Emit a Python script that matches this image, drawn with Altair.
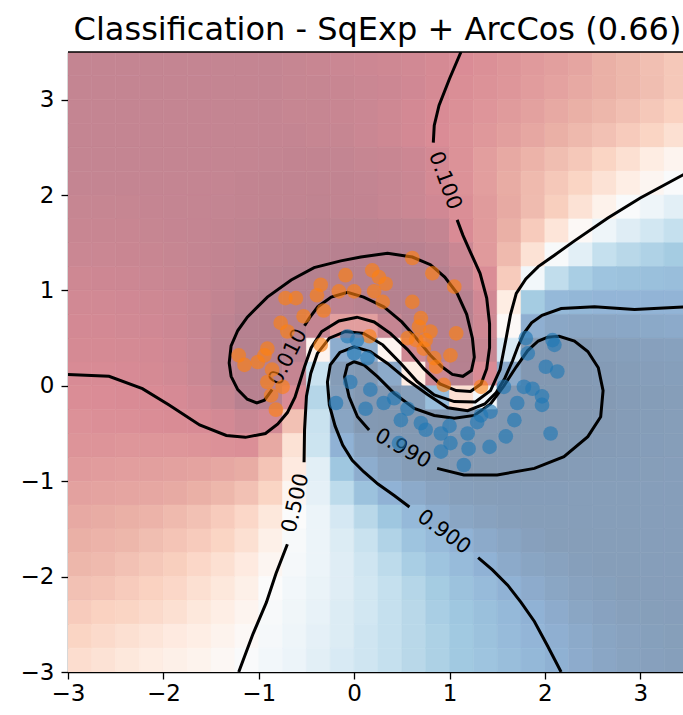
import altair as alt
import pandas as pd

TITLE = "Classification - SqExp + ArcCos (0.66)"

# ---- background field: estimated probability of the blue class on a 0.25 grid ----
GRID_X = [-2.875, -2.625, -2.375, -2.125, -1.875, -1.625, -1.375, -1.125, -0.875, -0.625,
          -0.375, -0.125, 0.125, 0.375, 0.625, 0.875, 1.125, 1.375, 1.625, 1.875,
          2.125, 2.375, 2.625, 2.875, 3.125, 3.375]
GRID_Y = [3.375, 3.125, 2.875, 2.625, 2.375, 2.125, 1.875, 1.625, 1.375, 1.125,
          0.875, 0.625, 0.375, 0.125, -0.125, -0.375, -0.625, -0.875, -1.125, -1.375,
          -1.625, -1.875, -2.125, -2.375, -2.625, -2.875]
P_GRID = [
    [0.045]*9 + [0.05, 0.055, 0.06, 0.065, 0.07, 0.08, 0.09, 0.103, 0.113, 0.126, 0.14, 0.154, 0.17, 0.2, 0.22, 0.245, 0.27],
    [0.045]*9 + [0.05, 0.05, 0.055, 0.06, 0.065, 0.075, 0.09, 0.107, 0.12, 0.131, 0.147, 0.163, 0.18, 0.2, 0.22, 0.24, 0.27],
    [0.045]*9 + [0.05, 0.05, 0.055, 0.06, 0.07, 0.085, 0.1, 0.113, 0.127, 0.143, 0.16, 0.18, 0.2, 0.22, 0.245, 0.27, 0.3],
    [0.045]*10 + [0.05, 0.05, 0.06, 0.07, 0.085, 0.103, 0.118, 0.135, 0.154, 0.175, 0.2, 0.225, 0.25, 0.28, 0.31, 0.35],
    [0.045]*8 + [0.042, 0.04, 0.04, 0.042, 0.05, 0.055, 0.065, 0.085, 0.12, 0.15, 0.18, 0.21, 0.24, 0.27, 0.31, 0.35, 0.4, 0.45],
    [0.045]*7 + [0.04, 0.038, 0.037, 0.037, 0.038, 0.042, 0.05, 0.06, 0.088, 0.12, 0.15, 0.19, 0.23, 0.27, 0.31, 0.36, 0.41, 0.46, 0.51],
    [0.05, 0.05, 0.05, 0.048, 0.045, 0.045, 0.042, 0.04, 0.038, 0.036, 0.035, 0.036, 0.04, 0.05, 0.06, 0.075,
     0.108, 0.142, 0.184, 0.233, 0.29, 0.36, 0.435, 0.51, 0.57, 0.62],
    [0.055, 0.055, 0.055, 0.05, 0.048, 0.045, 0.04, 0.035, 0.03, 0.027, 0.025, 0.024, 0.024, 0.026, 0.032, 0.045,
     0.099, 0.143, 0.2, 0.28, 0.37, 0.48, 0.57, 0.63, 0.67, 0.71],
    [0.06, 0.06, 0.058, 0.055, 0.05, 0.045, 0.04, 0.032, 0.025, 0.02, 0.016, 0.013, 0.011, 0.011, 0.013, 0.025, 0.06,
     0.14, 0.23, 0.36, 0.52, 0.62, 0.71, 0.74, 0.765, 0.79],
    [0.07, 0.068, 0.065, 0.06, 0.055, 0.048, 0.04, 0.03, 0.017, 0.0095, 0.006, 0.005, 0.005, 0.005, 0.006, 0.009,
     0.04, 0.105, 0.28, 0.55, 0.72, 0.78, 0.82, 0.83, 0.84, 0.85],
    [0.08, 0.078, 0.075, 0.07, 0.065, 0.055, 0.04, 0.018, 0.007, 0.004, 0.008, 0.03, 0.015, 0.006, 0.004, 0.005,
     0.01, 0.077, 0.4, 0.79, 0.87, 0.88, 0.885, 0.885, 0.89, 0.89],
    [0.085, 0.083, 0.08, 0.075, 0.068, 0.055, 0.03, 0.009, 0.004, 0.008, 0.045, 0.15, 0.15, 0.047, 0.008, 0.004,
     0.008, 0.07, 0.48, 0.91, 0.94, 0.945, 0.945, 0.94, 0.935, 0.93],
    [0.09, 0.09, 0.088, 0.085, 0.075, 0.06, 0.025, 0.006, 0.004, 0.012, 0.45, 0.92, 0.92, 0.45, 0.07, 0.009,
     0.005, 0.05, 0.65, 0.993, 0.995, 0.99, 0.975, 0.97, 0.965, 0.962],
    [0.098, 0.097, 0.095, 0.09, 0.08, 0.06, 0.025, 0.006, 0.008, 0.047, 0.7, 0.98, 0.993, 0.93, 0.4, 0.06,
     0.009, 0.1, 0.93, 0.995, 0.996, 0.993, 0.985, 0.978, 0.973, 0.97],
    [0.105, 0.103, 0.1, 0.1, 0.092, 0.075, 0.05, 0.012, 0.012, 0.1, 0.75, 0.97, 0.995, 0.993, 0.97, 0.85,
     0.35, 0.55, 0.995, 0.997, 0.997, 0.995, 0.988, 0.982, 0.978, 0.975],
    [0.115, 0.112, 0.11, 0.105, 0.102, 0.098, 0.085, 0.06, 0.08, 0.25, 0.7, 0.95, 0.992, 0.996, 0.996, 0.995,
     0.991, 0.995, 0.997, 0.997, 0.996, 0.994, 0.988, 0.982, 0.978, 0.975],
    [0.125, 0.125, 0.13, 0.13, 0.13, 0.125, 0.115, 0.11, 0.18, 0.36, 0.69, 0.9, 0.96, 0.985, 0.993, 0.996,
     0.997, 0.997, 0.997, 0.996, 0.994, 0.99, 0.985, 0.98, 0.977, 0.975],
    [0.14, 0.145, 0.15, 0.155, 0.16, 0.165, 0.175, 0.19, 0.26, 0.39, 0.62, 0.81, 0.92, 0.957, 0.978, 0.99,
     0.993, 0.994, 0.993, 0.99, 0.986, 0.982, 0.979, 0.977, 0.975, 0.974],
    [0.16, 0.165, 0.17, 0.175, 0.185, 0.2, 0.22, 0.25, 0.31, 0.46, 0.61, 0.73, 0.83, 0.9, 0.93, 0.955,
     0.97, 0.975, 0.976, 0.976, 0.976, 0.975, 0.975, 0.975, 0.974, 0.973],
    [0.18, 0.19, 0.2, 0.21, 0.23, 0.25, 0.28, 0.32, 0.38, 0.5, 0.58, 0.66, 0.74, 0.81, 0.87, 0.92,
     0.945, 0.96, 0.97, 0.975, 0.975, 0.975, 0.975, 0.975, 0.974, 0.973],
    [0.2, 0.21, 0.22, 0.24, 0.26, 0.28, 0.31, 0.35, 0.42, 0.52, 0.58, 0.64, 0.7, 0.76, 0.82, 0.86,
     0.9, 0.93, 0.95, 0.965, 0.975, 0.975, 0.975, 0.975, 0.974, 0.973],
    [0.22, 0.23, 0.25, 0.27, 0.29, 0.32, 0.35, 0.39, 0.46, 0.53, 0.58, 0.63, 0.68, 0.73, 0.78, 0.82,
     0.86, 0.9, 0.93, 0.95, 0.96, 0.97, 0.975, 0.975, 0.974, 0.973],
    [0.25, 0.26, 0.28, 0.3, 0.32, 0.35, 0.38, 0.42, 0.5, 0.55, 0.59, 0.63, 0.67, 0.71, 0.75, 0.79,
     0.83, 0.86, 0.9, 0.925, 0.945, 0.96, 0.968, 0.975, 0.974, 0.973],
    [0.28, 0.3, 0.31, 0.33, 0.35, 0.38, 0.41, 0.45, 0.52, 0.56, 0.6, 0.64, 0.67, 0.71, 0.74, 0.78,
     0.81, 0.84, 0.87, 0.9, 0.925, 0.945, 0.958, 0.967, 0.972, 0.973],
    [0.31, 0.33, 0.35, 0.37, 0.39, 0.41, 0.44, 0.48, 0.53, 0.57, 0.61, 0.64, 0.68, 0.71, 0.74, 0.77,
     0.8, 0.83, 0.86, 0.885, 0.91, 0.93, 0.948, 0.96, 0.968, 0.972],
    [0.34, 0.36, 0.38, 0.4, 0.42, 0.44, 0.47, 0.51, 0.55, 0.58, 0.62, 0.65, 0.68, 0.71, 0.74, 0.77,
     0.8, 0.82, 0.85, 0.875, 0.905, 0.925, 0.943, 0.956, 0.965, 0.97],
]
assert len(P_GRID) == len(GRID_Y) and all(len(r) == len(GRID_X) for r in P_GRID)

# colormap stops (RdBu, half-transparent over white)
P_STOPS = [0.0, 0.1, 0.2, 0.3, 0.4, 0.5, 0.6, 0.7, 0.8, 0.9, 1.0]
P_COLORS = ['#b3808f', '#d98b95', '#eab0a6', '#fad2c1', '#feede3', '#fbfbfb',
            '#e8f2f8', '#c9e2ef', '#a1c9e1', '#90b2d5', '#8297b0']

# ---- training points ----
ORANGE_X = [0.61, 0.82, 1.05, 0.19, 0.26, 0.33, -0.09, -0.35, -0.16, 0.00, -0.39, -0.72, -0.61, 0.21, 0.30,
            -0.32, -0.53, -0.77, -0.70, 0.61, 0.70, 0.68, 0.80, 0.75, 1.07, 0.56, 0.65, 0.73, 1.01, 0.84,
            0.86, 0.94, 1.33, -0.35, 0.16, -1.21, -1.15, -1.01, -0.91, -0.94, -0.86, -0.91, -0.75, -0.87, -0.82]
ORANGE_Y = [1.34, 1.18, 1.04, 1.21, 1.14, 1.07, 1.16, 1.06, 0.99, 0.99, 0.95, 0.92, 0.92, 0.99, 0.88,
            0.79, 0.73, 0.66, 0.57, 0.88, 0.71, 0.62, 0.57, 0.48, 0.55, 0.50, 0.48, 0.39, 0.32, 0.29,
            0.20, 0.01, -0.01, 0.43, 0.52, 0.32, 0.22, 0.25, 0.39, 0.32, 0.17, 0.04, -0.01, -0.10, -0.25]
BLUE_X = [-0.07, 0.03, 0.00, 0.14, -0.04, 0.17, -0.19, 0.12, 0.31, 0.42, 0.56, 0.49, 0.70, 0.75, 0.91,
          1.01, 0.91, 1.19, 1.33, 1.29, 1.43, 1.15, 0.47, 1.59, 1.68, 1.71, 1.97, 1.97, 1.87, 1.78,
          2.06, 1.80, 1.82, 2.08, 2.10, 2.01, 2.13, 1.57, 1.42, 1.00, 1.20]
BLUE_Y = [0.52, 0.48, 0.34, 0.29, 0.04, -0.04, -0.18, -0.24, -0.18, -0.13, -0.24, -0.36, -0.39, -0.46, -0.50,
          -0.60, -0.69, -0.50, -0.31, -0.38, -0.27, -0.83, -0.60, -0.53, -0.36, -0.18, -0.11, -0.20, -0.03, -0.01,
          -0.50, 0.50, 0.34, 0.48, 0.43, 0.20, 0.15, -0.01, -0.64, -0.42, -0.66]

# ---- contour lines (traced), split where the inline labels sit ----
C001 = [(-0.86, -0.04), (-0.94, -0.15), (-1.02, -0.18), (-1.12, -0.14), (-1.22, -0.04), (-1.29, 0.10),
        (-1.31, 0.24), (-1.29, 0.42), (-1.22, 0.58), (-1.12, 0.72), (-0.91, 0.93), (-0.66, 1.11),
        (-0.42, 1.24), (-0.14, 1.31), (0.07, 1.35), (0.35, 1.39), (0.61, 1.35), (0.80, 1.27), (0.95, 1.14),
        (1.08, 0.97), (1.18, 0.75), (1.24, 0.50), (1.26, 0.30), (1.23, 0.16), (1.14, 0.10), (1.03, 0.12),
        (0.92, 0.20), (0.80, 0.32), (0.66, 0.49), (0.50, 0.67), (0.31, 0.83), (0.10, 0.93), (-0.07, 0.98),
        (-0.24, 0.93), (-0.38, 0.83), (-0.47, 0.71), (-0.52, 0.63)]
C010_A = [(-3.0, 0.12), (-2.57, 0.10), (-2.22, -0.03), (-1.94, -0.20), (-1.62, -0.41), (-1.34, -0.52),
          (-1.14, -0.54), (-0.93, -0.50), (-0.80, -0.40), (-0.70, -0.28), (-0.62, -0.12), (-0.57, 0.04),
          (-0.52, 0.20), (-0.45, 0.40), (-0.34, 0.57), (-0.16, 0.68), (0.03, 0.72), (0.21, 0.67),
          (0.38, 0.55), (0.56, 0.38), (0.73, 0.18), (0.90, 0.02), (1.07, -0.05), (1.22, -0.06),
          (1.33, 0.02), (1.39, 0.18), (1.42, 0.40), (1.42, 0.65), (1.39, 0.92), (1.32, 1.18),
          (1.22, 1.40), (1.14, 1.58), (1.08, 1.74)]
C010_B = [(0.83, 2.55), (0.84, 2.73), (0.89, 2.94), (1.00, 3.22), (1.12, 3.50)]
C050_A = [(-1.21, -3.0), (-1.06, -2.6), (-0.92, -2.27), (-0.82, -1.97), (-0.70, -1.66)]
C050_B = [(-0.525, -0.80), (-0.52, -0.46), (-0.50, -0.11), (-0.455, 0.13), (-0.385, 0.34), (-0.26, 0.50),
          (-0.09, 0.57), (0.10, 0.55), (0.30, 0.43), (0.49, 0.235), (0.66, 0.045), (0.84, -0.095),
          (1.05, -0.165), (1.27, -0.17), (1.43, -0.05), (1.53, 0.17), (1.59, 0.48), (1.64, 0.75),
          (1.70, 0.97), (1.80, 1.12), (1.93, 1.25), (2.10, 1.37), (2.31, 1.52), (2.66, 1.76),
          (3.0, 1.97), (3.5, 2.24)]
C090_A = [(2.17, -3.0), (2.03, -2.73), (1.89, -2.47), (1.75, -2.27), (1.61, -2.09), (1.45, -1.93), (1.30, -1.80)]
C090_B = [(0.58, -1.27), (0.42, -1.15), (0.25, -1.03), (0.10, -0.90), (-0.02, -0.78), (-0.12, -0.62),
          (-0.20, -0.42), (-0.26, -0.20), (-0.28, 0.04), (-0.25, 0.22), (-0.15, 0.35), (0.0, 0.41),
          (0.17, 0.36), (0.35, 0.235), (0.56, 0.06), (0.77, -0.09), (0.98, -0.23), (1.19, -0.26),
          (1.37, -0.19), (1.49, -0.07), (1.58, 0.08), (1.66, 0.26), (1.72, 0.42), (1.78, 0.55),
          (1.86, 0.66), (1.97, 0.74), (2.17, 0.81), (2.52, 0.83), (2.94, 0.80), (3.5, 0.83)]
C099 = [(0.87, -0.865), (1.15, -0.935), (1.50, -0.935), (1.89, -0.865), (2.20, -0.743), (2.45, -0.533),
        (2.585, -0.324), (2.61, -0.05), (2.56, 0.19), (2.45, 0.36), (2.31, 0.47), (2.15, 0.52),
        (2.03, 0.51), (1.93, 0.47), (1.82, 0.37), (1.70, 0.20), (1.57, 0.0), (1.43, -0.19),
        (1.26, -0.31), (1.05, -0.34), (0.84, -0.31), (0.63, -0.236), (0.42, -0.079), (0.245, 0.096),
        (0.105, 0.218), (0.0, 0.253), (-0.07, 0.218), (-0.10, 0.096), (-0.053, -0.114), (0.035, -0.324),
        (0.157, -0.463)]
SEGMENTS = {"c001": C001, "c010a": C010_A, "c010b": C010_B, "c050a": C050_A, "c050b": C050_B,
            "c090a": C090_A, "c090b": C090_B, "c099": C099}

LABEL_TEXT = ["0.010", "0.100", "0.500", "0.900", "0.990"]
LABEL_X = [-0.69, 0.95, -0.61, 0.94, 0.51]
LABEL_Y = [0.30, 2.15, -1.23, -1.535, -0.66]
LABEL_ANGLE = [297, 70, 283, 36, 29]

# ---- build tables ----
half = (GRID_X[1] - GRID_X[0]) / 2
heat_rows = []
for j, yc in enumerate(GRID_Y):
    for i, xc in enumerate(GRID_X):
        heat_rows.append({"x1": xc - half, "x2": xc + half, "y1": yc - half, "y2": yc + half,
                          "p": P_GRID[j][i]})
df_heat = pd.DataFrame(heat_rows)

line_rows = []
for name, pts in SEGMENTS.items():
    for k, (xv, yv) in enumerate(pts):
        line_rows.append({"seg": name, "i": k, "x": xv, "y": yv})
df_lines = pd.DataFrame(line_rows)

df_lab = pd.DataFrame({"t": LABEL_TEXT, "x": LABEL_X, "y": LABEL_Y, "a": LABEL_ANGLE})
df_or = pd.DataFrame({"x": ORANGE_X, "y": ORANGE_Y})
df_bl = pd.DataFrame({"x": BLUE_X, "y": BLUE_Y})

FONT = "DejaVu Sans"
W, H = 615, 620
xs = alt.Scale(domain=[-3, 3.448], nice=False, zero=False)
ys = alt.Scale(domain=[-3, 3.5], nice=False, zero=False)
ax_common = dict(values=[-3, -2, -1, 0, 1, 2, 3], title=None, grid=False, labelFont=FONT,
                 labelFontSize=23, labelColor="black", tickColor="black", tickSize=7,
                 tickWidth=1.3, domainColor="black", domainWidth=1.3, labelFlush=False,
                 labelOverlap=False)
xaxis = alt.Axis(orient="bottom", labelPadding=3, **ax_common)
yaxis = alt.Axis(orient="left", labelPadding=7, **ax_common)

X = lambda f: alt.X(f, type="quantitative", scale=xs, axis=xaxis)
Y = lambda f: alt.Y(f, type="quantitative", scale=ys, axis=yaxis)

cscale = alt.Scale(domain=P_STOPS, range=P_COLORS, interpolate="rgb", clamp=True)

heat = alt.Chart(df_heat).mark_rect(clip=True, strokeWidth=0.6).encode(
    x=X("x1"), x2="x2", y=Y("y1"), y2="y2",
    color=alt.Color("p:Q", scale=cscale, legend=None),
    stroke=alt.Stroke("p:Q", scale=cscale, legend=None),
)

lines = alt.Chart(df_lines).mark_line(color="black", strokeWidth=3, clip=True).encode(
    x=X("x"), y=Y("y"), detail="seg:N", order=alt.Order("i:Q"),
)

labels = alt.Chart(df_lab).mark_text(font=FONT, fontSize=21, color="black",
                                      align="center", baseline="middle").encode(
    x=X("x"), y=Y("y"), text="t:N", angle=alt.Angle("a:Q", scale=None),
)

orange = alt.Chart(df_or).mark_circle(size=215, color="#ff7f0e", opacity=0.62, clip=True).encode(
    x=X("x"), y=Y("y"))
blue = alt.Chart(df_bl).mark_circle(size=215, color="#1f77b4", opacity=0.62, clip=True).encode(
    x=X("x"), y=Y("y"))

top_border = alt.Chart(pd.DataFrame({"k": [0]})).mark_rule(color="black", strokeWidth=1.3).encode(
    x=alt.value(0), x2=alt.value(W), y=alt.value(0))

title = alt.Chart(pd.DataFrame({"t": [TITLE]})).mark_text(
    font=FONT, fontSize=32, color="black", align="center", baseline="alphabetic").encode(
    text="t:N", x=alt.value(309.5), y=alt.value(-12))

chart = alt.layer(heat, lines, labels, orange, blue, top_border, title).properties(
    width=W, height=H,
    autosize="none",
    padding={"left": 68, "top": 52, "right": 0, "bottom": 43},
).configure_view(stroke=None).configure(background="white")

chart.save("out.html", embed_options={"renderer": "svg", "actions": False})
